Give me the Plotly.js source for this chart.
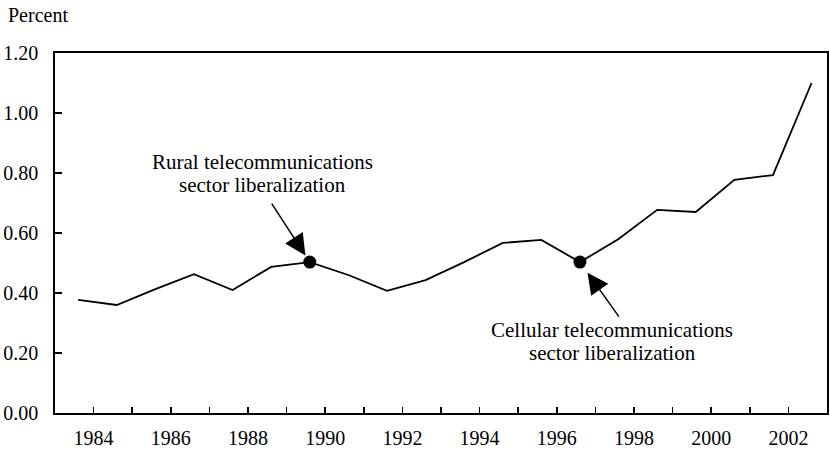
<!DOCTYPE html>
<html>
<head>
<meta charset="utf-8">
<script src="https://cdn.plot.ly/plotly-3.0.1.min.js"></script>
<style>
  html, body { margin: 0; padding: 0; background: #fff; }
  #chart { width: 830px; height: 452px; }
</style>
</head>
<body>
<div id="chart"></div>
<script>
// Data
const years = [1983, 1984, 1985, 1986, 1987, 1988, 1989, 1990, 1991, 1992,
               1993, 1994, 1995, 1996, 1997, 1998, 1999, 2000, 2001, 2002];
const percent = [0.377, 0.360, 0.413, 0.463, 0.410, 0.487, 0.503, 0.460, 0.407, 0.443,
                 0.503, 0.567, 0.577, 0.503, 0.580, 0.677, 0.670, 0.777, 0.793, 1.100];
const eventYears = [1989, 1996];
const ruralLines = ["Rural telecommunications", "sector liberalization"];
const cellularLines = ["Cellular telecommunications", "sector liberalization"];
const yTickVals = [0, 0.2, 0.4, 0.6, 0.8, 1.0, 1.2];
const yTickText = ["0.00", "0.20", "0.40", "0.60", "0.80", "1.00", "1.20"];
const xTickVals = [1984, 1986, 1988, 1990, 1992, 1994, 1996, 1998, 2000, 2002];

// annual observations plotted mid-period
const OFFSET = 0.6;
const xs = years.map(y => y + OFFSET);
const evX = eventYears.map(y => y + OFFSET);
const evY = eventYears.map(y => percent[years.indexOf(y)]);

const font = "Liberation Serif, Times New Roman, serif";

const traces = [
  { x: xs, y: percent, mode: "lines", type: "scatter",
    line: { color: "#000", width: 1.8 }, hoverinfo: "skip" },
  { x: evX, y: evY, mode: "markers", type: "scatter",
    marker: { color: "#000", size: 13 }, hoverinfo: "skip" }
];

function label(text, x, y) {
  return { x: x, y: y, xref: "x", yref: "y", text: text, showarrow: false,
           xanchor: "center", yanchor: "middle", font: { family: font, size: 21 } };
}

const layout = {
  width: 830, height: 452,
  margin: { l: 55, r: 3, t: 53, b: 39 },
  paper_bgcolor: "#fff", plot_bgcolor: "#fff",
  showlegend: false,
  font: { family: font, size: 20, color: "#000" },
  xaxis: {
    range: [1983, 2003],
    tickvals: xTickVals,
    ticktext: xTickVals.map(String),
    ticks: "inside", ticklen: 6, tickwidth: 1.5, tickcolor: "#000",
    minor: { dtick: 1, tick0: 1983, ticks: "inside", ticklen: 6, tickwidth: 1.5, tickcolor: "#000" },
    showgrid: false, zeroline: false,
    showline: true, linecolor: "#000", linewidth: 1.8, mirror: true,
    ticklabelstandoff: 6,
    tickfont: { family: font, size: 20 }
  },
  yaxis: {
    range: [0, 1.2],
    tickvals: yTickVals,
    ticktext: yTickText,
    ticks: "inside", ticklen: 7, tickwidth: 1.5, tickcolor: "#000",
    showgrid: false, zeroline: false,
    showline: true, linecolor: "#000", linewidth: 1.8, mirror: true,
    ticklabelstandoff: 11,
    tickfont: { family: font, size: 20 }
  },
  annotations: [
    { xref: "paper", yref: "paper", x: 0, y: 1, xshift: -49, yshift: 38,
      xanchor: "left", yanchor: "middle", showarrow: false,
      text: "Percent", font: { family: font, size: 20 } },
    { x: evX[0], y: evY[0], xref: "x", yref: "y", text: "",
      showarrow: true, arrowhead: 2, arrowsize: 2.8, arrowwidth: 1.5, arrowcolor: "#000",
      ax: -39, ay: -60, standoff: 8 },
    { x: evX[1], y: evY[1], xref: "x", yref: "y", text: "",
      showarrow: true, arrowhead: 2, arrowsize: 2.8, arrowwidth: 1.5, arrowcolor: "#000",
      ax: 40, ay: 56, standoff: 13 },
    label(ruralLines[0], 1988.38, 0.837),
    label(ruralLines[1], 1988.38, 0.760),
    label(cellularLines[0], 1997.44, 0.277),
    label(cellularLines[1], 1997.44, 0.200)
  ]
};

Plotly.newPlot("chart", traces, layout, { staticPlot: true, displayModeBar: false });
</script>
</body>
</html>
